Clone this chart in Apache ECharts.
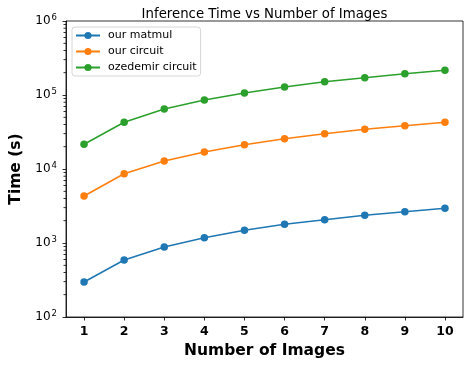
<!DOCTYPE html>
<html>
<head>
<meta charset="utf-8">
<script src="https://cdn.jsdelivr.net/npm/echarts@6/dist/echarts.min.js"></script>
<style>html,body{margin:0;padding:0;background:#fff}#c{width:464px;height:365px}</style>
</head>
<body>
<div id="c"></div>
<script>
const numImages = [1, 2, 3, 4, 5, 6, 7, 8, 9, 10];
const ourMatmul = [297, 589, 883, 1180, 1486, 1790, 2067, 2366, 2650, 2944];
const ourCircuit = [4315, 8630, 12800, 17000, 21300, 25700, 30000, 34400, 38500, 42800];
const ozedemirCircuit = [21600, 42800, 64700, 85500, 106500, 128000, 151000, 171000, 194000, 216000];
const seriesNames = ['our matmul', 'our circuit', 'ozedemir circuit'];
const xTickLabels = [1, 2, 3, 4, 5, 6, 7, 8, 9, 10];
const yTickExponents = [2, 3, 4, 5, 6];
const colors = ['#1f77b4', '#ff7f0e', '#2ca02c'];

const FONT = 'DejaVu Sans';
const X_MIN = 0.55, X_MAX = 10.45;

// minor tick positions for log axis (2..9 x 10^k)
const yMinor = [];
for (let e = yTickExponents[0]; e < yTickExponents[yTickExponents.length - 1]; e++) {
  for (let m = 2; m <= 9; m++) yMinor.push(m * Math.pow(10, e));
}

function pairs(ys) { return numImages.map((x, i) => [x, ys[i]]); }

const chart = echarts.init(document.getElementById('c'), null, {renderer: 'canvas'});
const lineSeries = [ourMatmul, ourCircuit, ozedemirCircuit].map((d, i) => ({
  name: seriesNames[i],
  type: 'line',
  data: pairs(d),
  symbol: 'circle',
  symbolSize: 7.5,
  color: colors[i],
  lineStyle: {width: 1.5, color: colors[i]},
  itemStyle: {color: colors[i]},
  animation: false,
  z: 3
}));

chart.setOption({
  animation: false,
  textStyle: {fontFamily: FONT},
  title: {
    text: 'Inference Time vs Number of Images',
    left: 259.5,
    textAlign: 'center',
    top: 3,
    textStyle: {fontFamily: FONT, fontSize: 13.3, fontWeight: 'normal', color: '#000'}
  },
  grid: {left: 66, right: 1, top: 21, bottom: 48, show: true, borderColor: '#000', borderWidth: 0.8, containLabel: false},
  legend: {
    data: seriesNames,
    orient: 'vertical',
    left: 72,
    top: 27,
    itemWidth: 24,
    itemHeight: 9,
    itemGap: 5,
    padding: [3, 4, 3, 3],
    backgroundColor: 'rgba(255,255,255,0.8)',
    borderColor: '#cccccc',
    borderWidth: 0.8,
    borderRadius: 3,
    textStyle: {fontFamily: FONT, fontSize: 11, color: '#000', padding: [0, 0, 0, 3]}
  },
  xAxis: {
    type: 'value',
    min: X_MIN,
    max: X_MAX,
    name: 'Number of Images',
    nameLocation: 'middle',
    nameGap: 25,
    nameTextStyle: {fontFamily: FONT, fontSize: 15.5, fontWeight: 'bold', color: '#000'},
    axisLine: {show: true, onZero: false, lineStyle: {color: '#000', width: 0.8}},
    axisTick: {show: true, inside: false, length: 3.5, lineStyle: {color: '#000', width: 0.8}, customValues: xTickLabels},
    axisLabel: {show: true, customValues: xTickLabels, margin: 8, fontFamily: FONT, fontSize: 12.5, fontWeight: 'bold', color: '#000'},
    splitLine: {show: false}
  },
  yAxis: {
    type: 'log',
    logBase: 10,
    min: Math.pow(10, yTickExponents[0]),
    max: Math.pow(10, yTickExponents[yTickExponents.length - 1]),
    name: 'Time (s)',
    nameLocation: 'middle',
    nameGap: 34,
    nameTextStyle: {fontFamily: FONT, fontSize: 15.5, fontWeight: 'bold', color: '#000'},
    axisLine: {show: true, lineStyle: {color: '#000', width: 0.8}},
    axisTick: {show: true, inside: false, length: 3.5, lineStyle: {color: '#000', width: 0.8}},
    minorTick: {show: false},
    splitLine: {show: false},
    axisLabel: {
      margin: 9,
      color: '#000',
      fontFamily: FONT,
      fontSize: 12,
      formatter: function (v) {
        const e = Math.round(Math.log10(v));
        return '10{sup|' + e + '}';
      },
      rich: {
        sup: {fontFamily: FONT, fontSize: 8.5, color: '#000', padding: [0, 0, 7, 1]}
      }
    }
  },
  series: lineSeries.concat([{
    type: 'scatter',
    name: 'minorTicks',
    silent: true,
    clip: false,
    symbol: 'rect',
    symbolSize: [2.5, 0.8],
    symbolOffset: [-1.25, 0],
    itemStyle: {color: '#000', opacity: 1},
    emphasis: {disabled: true},
    data: yMinor.map(v => [X_MIN, v]),
    z: 5
  }])
});
</script>
</body>
</html>
